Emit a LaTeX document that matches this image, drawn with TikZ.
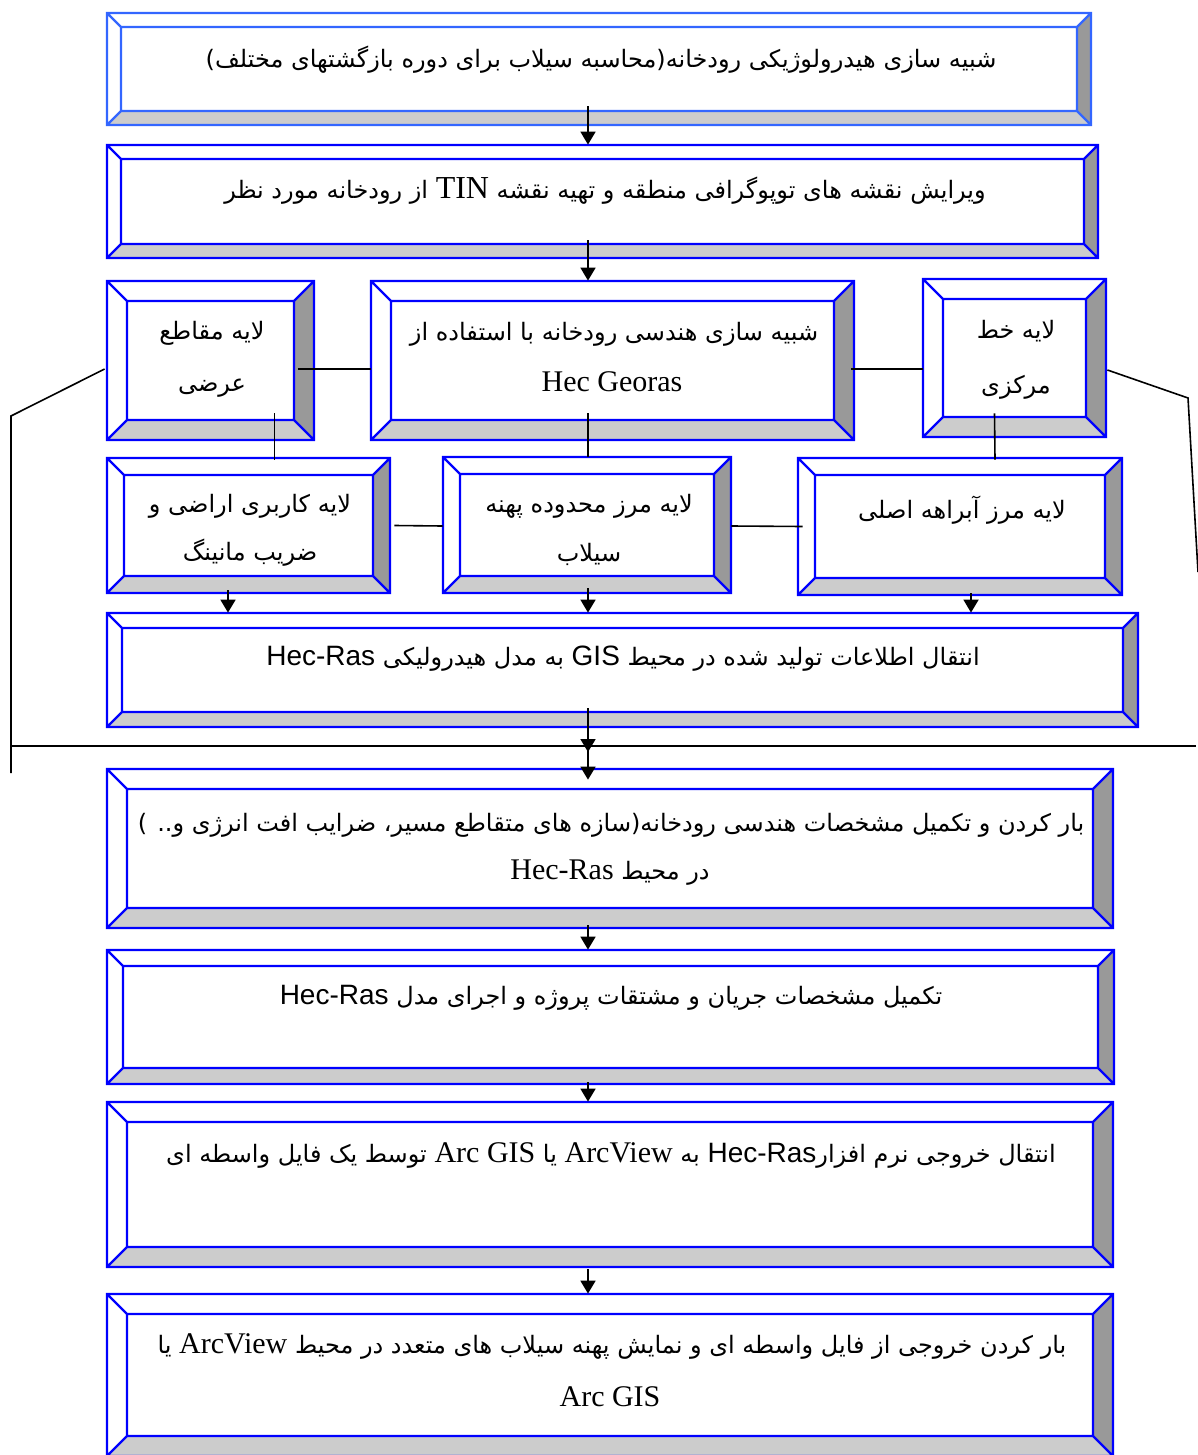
\documentclass[tikz,border=0pt]{standalone}
\usepackage{fontspec}
\setmainfont{Liberation Serif}
\newfontfamily\fa[Script=Arabic]{DejaVu Sans}
\newfontfamily\lsans{Liberation Sans}
\TeXXeTstate=1
\usetikzlibrary{calc,fit,arrows.meta}
\definecolor{bblue}{RGB}{0,0,255}
\definecolor{lblue}{RGB}{51,102,255}
\definecolor{dface}{RGB}{153,153,153}
\definecolor{lface}{RGB}{204,204,204}
\newcommand{\bvl}[7]{%
 \coordinate (#1-nw) at (#2,#3);
 \coordinate (#1-se) at (#4,#5);
 \fill[white] (#2,#3) rectangle (#4,#5);
 \fill[dface] (#4,#3) -- (#4,#5) -- ({#4-#6},{#5-#6}) -- ({#4-#6},{#3+#6}) -- cycle;
 \fill[lface] (#2,#5) -- (#4,#5) -- ({#4-#6},{#5-#6}) -- ({#2+#6},{#5-#6}) -- cycle;
 \draw[#7, line width=1.1pt, line join=miter] (#2,#3) rectangle (#4,#5) ({#2+#6},{#3+#6}) rectangle ({#4-#6},{#5-#6})
   (#2,#3) -- ({#2+#6},{#3+#6}) (#4,#3) -- ({#4-#6},{#3+#6}) (#2,#5) -- ({#2+#6},{#5-#6}) (#4,#5) -- ({#4-#6},{#5-#6});
 \node[inner sep=0, fit=(#1-nw)(#1-se)] (#1) {};
}
\tikzset{
  fatxt/.style={inner sep=0, font=\fa\fontsize{12}{15}\selectfont},
  lattxt/.style={inner sep=0, font=\rmfamily\fontsize{15}{18}\selectfont},
  conn/.style={black, line width=0.8pt},
  arr/.style={black, line width=0.9pt, -{Triangle[length=6.5pt,width=7.5pt]}}
}
\begin{document}
\begin{tikzpicture}[x=0.5pt,y=-0.5pt]
\fill[white] (0,0) rectangle (1198,1455);
\useasboundingbox (0,0) rectangle (1198,1455);
\coordinate (ax) at (588,0);
% boxes
\bvl{b1}{107}{13}{1091}{125}{14}{lblue}
\bvl{b2}{107}{145}{1098}{258}{14}{bblue}
\bvl{b3L}{107}{281}{314}{440}{20}{bblue}
\bvl{b3M}{371}{281}{854}{440}{20}{bblue}
\bvl{b3R}{923}{279}{1106}{437}{20}{bblue}
\bvl{b4L}{107}{458}{390}{593}{17}{bblue}
\bvl{b4M}{443}{457}{731}{593}{17}{bblue}
\bvl{b4R}{798}{458}{1122}{595}{17}{bblue}
\bvl{b5}{107}{613}{1138}{727}{15}{bblue}
\bvl{b6}{107}{769}{1113}{928}{20}{bblue}
\bvl{b7}{107}{950}{1114}{1084}{16}{bblue}
\bvl{b8}{107}{1102}{1113}{1267}{20}{bblue}
\bvl{b9}{107}{1294}{1113}{1456}{20}{bblue}
% texts
\node[fatxt] (t1) at (601,60) {\beginR شبیه سازی هیدرولوژیکی رودخانه(محاسبه سیلاب برای دوره بازگشتهای مختلف)\endR};
\node[fatxt] (t2) at (605,191) {\beginR ویرایش نقشه های توپوگرافی منطقه و تهیه نقشه {\rmfamily\fontsize{16}{18}\selectfont TIN} از رودخانه مورد نظر\endR};
\node[fatxt] (t3La) at (212,333) {\beginR لایه مقاطع\endR};
\node[fatxt] (t3Lb) at (212,388) {\beginR عرضی\endR};
\node[fatxt] (t3Ma) at (614,334) {\beginR شبیه سازی هندسی رودخانه با استفاده از\endR};
\node[lattxt] (t3Mb) at (612,382) {Hec Georas};
\node[fatxt] (t3Ra) at (1016,331) {\beginR لایه خط\endR};
\node[fatxt] (t3Rb) at (1016,387) {\beginR مرکزی\endR};
\node[fatxt] (t4La) at (250,506) {\beginR لایه کاربری اراضی و\endR};
\node[fatxt] (t4Lb) at (250,553) {\beginR ضریب مانینگ\endR};
\node[fatxt] (t4Ma) at (589,506) {\beginR لایه مرز محدوده پهنه\endR};
\node[fatxt] (t4Mb) at (589,554) {\beginR سیلاب\endR};
\node[fatxt] (t4R) at (962,510) {\beginR لایه مرز آبراهه اصلی\endR};
\node[fatxt] (t5) at (623,659) {\beginR انتقال اطلاعات تولید شده در محیط {\lsans\fontsize{14}{17}\selectfont GIS} به مدل هیدرولیکی {\lsans\fontsize{14}{17}\selectfont Hec-Ras}\endR};
\node[fatxt] (t6a) at (611,825) {\beginR بار کردن و تکمیل مشخصات هندسی رودخانه(سازه های متقاطع مسیر، ضرایب افت انرژی و.. )\endR};
\node[fatxt] (t6b) at (610,873) {\beginR در محیط {\rmfamily\fontsize{15}{18}\selectfont Hec-Ras}\endR};
\node[fatxt] (t7) at (611,998) {\beginR تکمیل مشخصات جریان و مشتقات پروژه و اجرای مدل {\lsans\fontsize{14}{17}\selectfont Hec-Ras}\endR};
\node[fatxt] (t8) at (611,1155) {\beginR انتقال خروجی نرم افزار{\lsans\fontsize{14}{17}\selectfont Hec-Ras} به {\rmfamily\fontsize{15}{18}\selectfont ArcView} یا \beginL{\rmfamily\fontsize{15}{18}\selectfont Arc GIS}\endL{} توسط یک فایل واسطه ای\endR};
\node[fatxt] (t9a) at (612,1346) {\beginR بار کردن خروجی از فایل واسطه ای و نمایش پهنه سیلاب های متعدد در محیط {\rmfamily\fontsize{15}{18}\selectfont ArcView} یا\endR};
\node[lattxt] (t9b) at (610,1397) {Arc GIS};
% coordinates for free ends
\coordinate (hlL) at (11,746);
\coordinate (hlR) at (1196,746);
\coordinate (hlM) at (588,746);
\coordinate (lk) at (11,416);
\coordinate (lend) at (11,773);
\coordinate (rk) at (1188,398);
\coordinate (rend) at (1198,572);
% connectors
\draw[arr] ($(b1.south -| ax)+(0,-19)$) -- (b2.north -| ax);
\draw[arr] ($(b2.south -| ax)+(0,-18)$) -- (b3M.north -| ax);
\draw[conn] ($(b3L.east)+(-16,8.5)$) -- ($(b3M.west)+(0,8.5)$);
\draw[conn] ($(b3M.east)+(-3,8.5)$) -- ($(b3R.west)+(0,11)$);
\draw[conn] ($(b3L.south)+(64,-27)$) -- ($(b4L.north)+(26,2)$);
\draw[conn] ($(b3M.south -| ax)+(0,-27)$) -- (b4M.north -| ax);
\draw[conn] ($(b3R.south)+(-20,-24)$) -- ($(b4R.north)+(35,2)$);
\draw[conn] ($(b4L.east)+(4,0)$) -- ($(b4M.west)+(0,1)$);
\draw[conn] ($(b4M.east)+(0,1)$) -- ($(b4R.west)+(5,0)$);
\draw[arr] ($(b4L.south)+(-20.5,-3)$) -- (b5.north -| {$(b4L.south)+(-20.5,0)$});
\draw[arr] ($(b4M.south -| ax)+(0,-5)$) -- (b5.north -| ax);
\draw[arr] ($(b4R.south)+(11,-2)$) -- (b5.north -| {$(b4R.south)+(11,0)$});
\draw[conn] (hlL) -- (hlR);
\draw[arr] ($(b5.south -| ax)+(0,-19)$) -- ($(hlM)+(0,6)$);
\draw[arr] (hlM) -- ($(b6.north -| ax)+(0,11)$);
\draw[conn] ($(b3L.west)+(-2,8.5)$) -- (lk) -- (lend);
\draw[conn] ($(b3R.east)+(1,12)$) -- (rk) -- (rend);
\draw[arr] ($(b6.south -| ax)+(0,-3)$) -- (b7.north -| ax);
\draw[arr] ($(b7.south -| ax)+(0,-2)$) -- (b8.north -| ax);
\draw[arr] ($(b8.south -| ax)+(0,2)$) -- (b9.north -| ax);
\end{tikzpicture}
\end{document}
